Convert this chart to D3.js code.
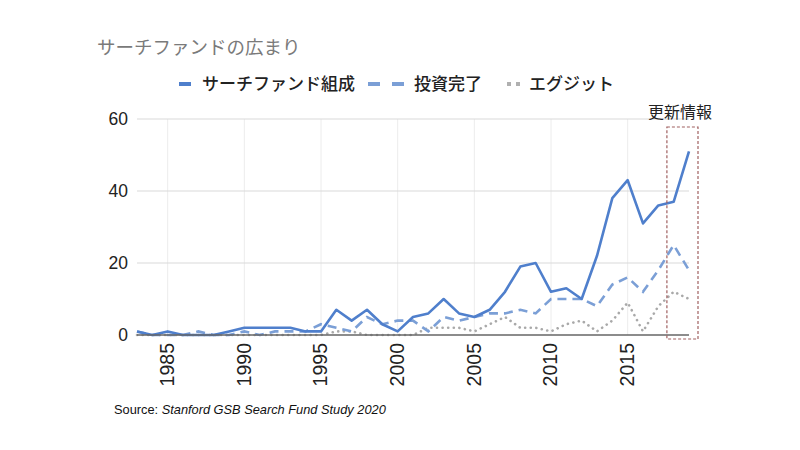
<!DOCTYPE html>
<html><head><meta charset="utf-8">
<script src="https://cdn.jsdelivr.net/npm/d3@7"></script>
<style>
body{margin:0;background:#fff;}
svg{display:block;}
</style></head>
<body>
<svg id="c" width="800" height="450"></svg>
<script>
const years = d3.range(1983, 2020);
const formed =   [1,0,1,0,0,0,1,2,2,2,2,1,1,7,4,7,3,1,5,6,10,6,5,7,12,19,20,12,13,10,22,38,43,31,36,37,51];
const invested = [1,0,0,0,1,0,0,1,0,1,1,1,3,2,1,5,3,4,4,1,5,4,5,6,6,7,6,10,10,10,8,14,16,12,18,25,18];
const exited =   [0,0,0,0,0,0,0,0,0,0,0,0,0,1,1,0,0,0,0,2,2,2,1,3,5,2,2,1,3,4,1,4,9,1,8,12,10];
const yTicks = [0,20,40,60];
const xTicks = [1985,1990,1995,2000,2005,2010,2015];
const seriesNames = ["サーチファンド組成","投資完了","エグジット"];
const titleText = "サーチファンドの広まり";
const noteText = "更新情報";

const svg = d3.select("#c");
const jp = "'Noto Sans CJK JP','Noto Sans',sans-serif";
const lat = "'Liberation Sans',Arial,sans-serif";

const x = d3.scaleLinear().domain([1983, 2019]).range([137, 689]);
const y = d3.scaleLinear().domain([0, 60]).range([335, 119]);

// title
svg.append("text").attr("x", 97).attr("y", 54).text(titleText)
  .attr("font-family", jp).attr("font-size", 18.5).attr("fill", "#7a7a7a");

// gridlines
svg.append("g").selectAll("line").data(xTicks).join("line")
  .attr("x1", d => x(d)).attr("x2", d => x(d)).attr("y1", y(60)).attr("y2", y(0))
  .attr("stroke", "#ececec").attr("stroke-width", 1);
svg.append("g").selectAll("line").data(yTicks.filter(d => d > 0)).join("line")
  .attr("x1", x(1983)).attr("x2", x(2019)).attr("y1", d => y(d)).attr("y2", d => y(d))
  .attr("stroke", "#d9d9d9").attr("stroke-width", 1.2);

// y axis labels
const yAxis = d3.axisLeft(y).tickValues(yTicks).tickSize(0).tickPadding(9);
const gy = svg.append("g").attr("transform", `translate(${x(1983)},0)`).call(yAxis);
gy.select(".domain").remove();
gy.selectAll("text").attr("font-family", lat).attr("font-size", 17.5).attr("fill", "#222");

// x axis
const xAxis = d3.axisBottom(x).tickValues(xTicks).tickFormat(d3.format("d")).tickSize(0).tickPadding(0);
const gx = svg.append("g").attr("transform", `translate(0,${y(0)})`).call(xAxis);
gx.select(".domain").remove();
gx.selectAll("text").attr("font-family", lat).attr("font-size", 19.5).attr("fill", "#222")
  .attr("transform", "rotate(-90)").attr("text-anchor", "end")
  .attr("x", -8).attr("y", -1).attr("dy", "0.35em");

// lines
const mk = arr => d3.line().x((d, i) => x(years[i])).y(d => y(d))(arr);
svg.append("path").attr("d", mk(exited)).attr("fill", "none")
  .attr("stroke", "#a9a9a9").attr("stroke-width", 2.6)
  .attr("stroke-dasharray", "0.1,5.5").attr("stroke-linecap", "round");
svg.append("path").attr("d", mk(invested)).attr("fill", "none")
  .attr("stroke", "#7b9fd6").attr("stroke-width", 2.6)
  .attr("stroke-dasharray", "9,6");
svg.append("path").attr("d", mk(formed)).attr("fill", "none")
  .attr("stroke", "#4f7fcc").attr("stroke-width", 2.6).attr("stroke-linejoin", "round");

// baseline
svg.append("line").attr("x1", x(1983)).attr("x2", x(2019)).attr("y1", y(0)).attr("y2", y(0))
  .attr("stroke", "#666").attr("stroke-width", 1.3);

// legend
const lg = svg.append("g").attr("font-family", jp).attr("font-size", 17).attr("fill", "#222").attr("font-weight", 500);
lg.append("line").attr("x1", 179).attr("x2", 191).attr("y1", 84).attr("y2", 84)
  .attr("stroke", "#4f7fcc").attr("stroke-width", 4);
lg.append("text").attr("x", 202).attr("y", 90).text(seriesNames[0]);
lg.append("line").attr("x1", 368).attr("x2", 404).attr("y1", 84).attr("y2", 84)
  .attr("stroke", "#7b9fd6").attr("stroke-width", 4).attr("stroke-dasharray", "12,12");
lg.append("text").attr("x", 414).attr("y", 90).text(seriesNames[1]);
lg.append("line").attr("x1", 507).attr("x2", 520).attr("y1", 84).attr("y2", 84)
  .attr("stroke", "#b0b0b0").attr("stroke-width", 4).attr("stroke-dasharray", "4,5");
lg.append("text").attr("x", 529).attr("y", 90).text(seriesNames[2]);

// highlight box
svg.append("rect").attr("x", x(2017.95) - 6).attr("y", 127)
  .attr("width", x(2019) - x(2017.95) + 15).attr("height", 212)
  .attr("fill", "none").attr("stroke", "#a06060").attr("stroke-width", 1.2)
  .attr("stroke-dasharray", "3,2");
svg.append("text").attr("x", 680).attr("y", 118).attr("text-anchor", "middle")
  .attr("font-family", jp).attr("font-size", 16).attr("fill", "#222").text(noteText);

// source
const src = svg.append("text").attr("x", 114).attr("y", 414)
  .attr("font-family", lat).attr("font-size", 12.8).attr("fill", "#111");
src.append("tspan").text("Source: ");
src.append("tspan").attr("font-style", "italic").text("Stanford GSB Search Fund Study 2020");
</script>
</body></html>
